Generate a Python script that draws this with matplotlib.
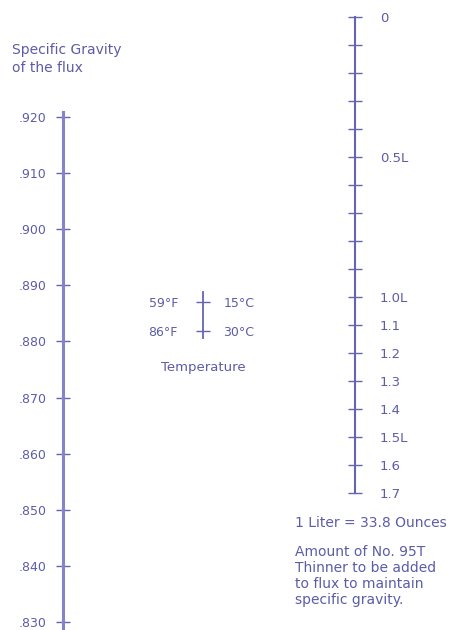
import matplotlib
matplotlib.use('Agg')
import matplotlib.pyplot as plt

# ---------------- data ----------------
sg_values = [0.920, 0.910, 0.900, 0.890, 0.880, 0.870, 0.860, 0.850, 0.840, 0.830]
sg_labels = ['.920', '.910', '.900', '.890', '.880', '.870', '.860', '.850', '.840', '.830']

temp_c = [15, 30]
temp_f_labels = ['59°F', '86°F']
temp_c_labels = ['15°C', '30°C']

thinner_values = [0.0, 0.1, 0.2, 0.3, 0.4, 0.5, 0.6, 0.7, 0.8, 0.9,
                  1.0, 1.1, 1.2, 1.3, 1.4, 1.5, 1.6, 1.7]
thinner_labels = ['0', '', '', '', '', '0.5L', '', '', '', '',
                  '1.0L', '1.1', '1.2', '1.3', '1.4', '1.5L', '1.6', '1.7']

title_sg = 'Specific Gravity\nof the flux'
title_temp = 'Temperature'
note_liter = '1 Liter = 33.8 Ounces'
note_amount = 'Amount of No. 95T\nThinner to be added\nto flux to maintain\nspecific gravity.'

# ---------------- style ----------------
W, H = 452, 630
line_c = '#6464b0'
line_light = '#8484c6'
text_c = '#5c5ca8'
plt.rcParams['font.family'] = ['DejaVu Sans']

fig = plt.figure(figsize=(W / 100, H / 100), dpi=100)
fig.patch.set_facecolor('white')


def px_axes(x_left, y_top, x_right, y_bottom):
    ax = fig.add_axes([x_left / W, 1 - y_bottom / H,
                       (x_right - x_left) / W, (y_bottom - y_top) / H])
    ax.patch.set_alpha(0)
    for s in ax.spines.values():
        s.set_visible(False)
    ax.set_xticks([])
    return ax


# ---- specific gravity scale ----
ax1 = px_axes(63, 112, 64, 630)
ax1.set_ylim(0.82857, 0.92089)
ax1.spines['left'].set_visible(True)
ax1.spines['left'].set_color(line_light)
ax1.spines['left'].set_linewidth(2.2)
ax1.set_yticks(sg_values)
ax1.set_yticklabels(sg_labels)
ax1.tick_params(axis='y', direction='inout', length=10, width=1.0,
                color=line_c, labelcolor=text_c, labelsize=9, pad=7)

# ---- temperature scale ----
ax2 = px_axes(203, 292, 204, 338)
ax2.set_ylim(33.62, 9.83)
ax2.spines['left'].set_visible(True)
ax2.spines['left'].set_color(line_c)
ax2.spines['left'].set_linewidth(1.3)
ax2.set_yticks(temp_c)
ax2.set_yticklabels(temp_f_labels)
ax2.tick_params(axis='y', direction='inout', length=10, width=1.0,
                color=line_c, labelcolor=text_c, labelsize=9, pad=13)
tw = ax2.twinx()
for s in tw.spines.values():
    s.set_visible(False)
tw.set_ylim(33.62, 9.83)
tw.set_yticks(temp_c)
tw.set_yticklabels(temp_c_labels)
tw.tick_params(axis='y', length=0, labelcolor=text_c, labelsize=9, pad=14)

# ---- thinner scale ----
ax3 = px_axes(354, 17, 355, 493)
ax3.set_ylim(1.7, 0.0)
ax3.spines['right'].set_visible(True)
ax3.spines['right'].set_color(line_c)
ax3.spines['right'].set_linewidth(1.5)
ax3.yaxis.tick_right()
ax3.set_yticks(thinner_values)
ax3.set_yticklabels(thinner_labels)
ax3.tick_params(axis='y', direction='inout', length=10, width=1.0,
                color=line_c, labelcolor=text_c, labelsize=9.5, pad=13)

# ---- texts ----
fig.text(12 / W, 1 - 43 / H, title_sg, color=text_c, fontsize=10,
         va='top', ha='left', linespacing=1.4)
fig.text(203 / W, 1 - 367 / H, title_temp, color=text_c, fontsize=9.5,
         va='center', ha='center')
fig.text(295 / W, 1 - 523 / H, note_liter, color=text_c, fontsize=10,
         va='center', ha='left')
fig.text(295 / W, 1 - 545 / H, note_amount, color=text_c, fontsize=10,
         va='top', ha='left', linespacing=1.18)

fig.savefig('out.png', dpi=100, facecolor='white')
